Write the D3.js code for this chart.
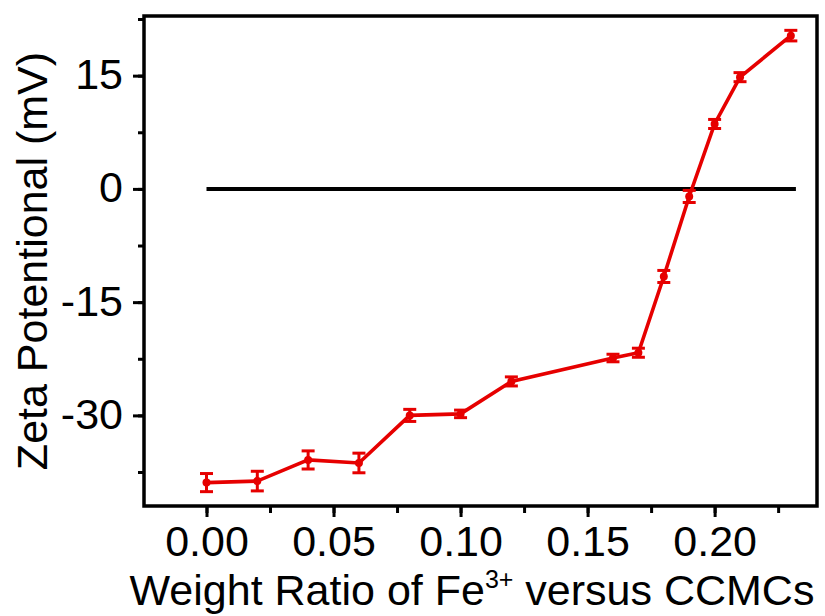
<!DOCTYPE html>
<html>
<head>
<meta charset="utf-8">
<script src="https://cdn.jsdelivr.net/npm/d3@7"></script>
<style>
  body { margin: 0; background: #fff; }
  svg text { font-family: "Liberation Sans", Arial, sans-serif; }
</style>
</head>
<body>
<svg id="chart" width="825" height="616"></svg>
<script>
const ratios = [0.00, 0.02, 0.04, 0.06, 0.08, 0.10, 0.12, 0.16, 0.17, 0.18, 0.19, 0.20, 0.21, 0.23];
const zeta = [-38.9, -38.7, -35.9, -36.3, -30.0, -29.8, -25.5, -22.4, -21.7, -11.6, -1.0, 8.6, 14.8, 20.3];
const zetaErr = [1.2, 1.3, 1.2, 1.3, 0.8, 0.5, 0.6, 0.5, 0.6, 0.8, 0.8, 0.6, 0.6, 0.7];
const xTicks = [0.00, 0.05, 0.10, 0.15, 0.20];
const yTicks = [15, 0, -15, -30];

const svg = d3.select("#chart");
const mLeft = 144, mRight = 817, mTop = 16, mBottom = 506;

const x = d3.scaleLinear().domain([-0.0246, 0.2403]).range([mLeft, mRight]);
const y = d3.scaleLinear().domain([-42.0, 22.9]).range([mBottom, mTop]);

const data = ratios.map((r, i) => ({ r, v: zeta[i], e: zetaErr[i] }));

// axes with major + minor ticks
const xMinor = d3.range(-0.025, 0.2401, 0.025).filter(t => t >= x.domain()[0] - 1e-9);
const yMinor = d3.range(-37.5, 23, 7.5);

const xAxis = svg.append("g").attr("transform", `translate(0,${mBottom})`);
xAxis.call(d3.axisBottom(x).tickValues(xMinor).tickSize(7).tickFormat(""));
xAxis.append("g").call(d3.axisBottom(x).tickValues(xTicks).tickSize(11).tickPadding(8).tickFormat(d3.format(".2f")));

const yAxis = svg.append("g").attr("transform", `translate(${mLeft},0)`);
yAxis.call(d3.axisLeft(y).tickValues(yMinor).tickSize(6).tickFormat(""));
yAxis.append("g").call(d3.axisLeft(y).tickValues(yTicks).tickSize(11).tickPadding(10).tickFormat(d => String(d)));

svg.selectAll(".domain").remove();
svg.selectAll(".tick line").attr("stroke", "#000").attr("stroke-width", 3);
svg.selectAll(".tick text").attr("fill", "#000").style("font-size", "43px");
xAxis.selectAll(".tick text").attr("dy", "0.72em");
yAxis.selectAll(".tick text").attr("dy", "0.3em");

// frame
svg.append("rect")
  .attr("x", mLeft).attr("y", mTop)
  .attr("width", mRight - mLeft).attr("height", mBottom - mTop)
  .attr("fill", "none").attr("stroke", "#000").attr("stroke-width", 3.5);

// zero reference line
svg.append("line")
  .attr("x1", x(0)).attr("x2", x(0.232))
  .attr("y1", y(0)).attr("y2", y(0))
  .attr("stroke", "#000").attr("stroke-width", 4);

const red = "#e60000";

svg.append("path")
  .datum(data)
  .attr("fill", "none")
  .attr("stroke", red)
  .attr("stroke-width", 3.6)
  .attr("d", d3.line().x(d => x(d.r)).y(d => y(d.v)));

const eb = svg.append("g").attr("stroke", red).attr("stroke-width", 3);
eb.selectAll(".bar").data(data).enter().append("line")
  .attr("x1", d => x(d.r)).attr("x2", d => x(d.r))
  .attr("y1", d => y(d.v - d.e)).attr("y2", d => y(d.v + d.e));
eb.selectAll(".capT").data(data).enter().append("line")
  .attr("x1", d => x(d.r) - 6.5).attr("x2", d => x(d.r) + 6.5)
  .attr("y1", d => y(d.v + d.e)).attr("y2", d => y(d.v + d.e));
eb.selectAll(".capB").data(data).enter().append("line")
  .attr("x1", d => x(d.r) - 6.5).attr("x2", d => x(d.r) + 6.5)
  .attr("y1", d => y(d.v - d.e)).attr("y2", d => y(d.v - d.e));

svg.selectAll(".pt").data(data).enter().append("circle")
  .attr("cx", d => x(d.r)).attr("cy", d => y(d.v))
  .attr("r", 4).attr("fill", red);

// axis titles
const xt = svg.append("text")
  .attr("x", 472).attr("y", 605)
  .attr("text-anchor", "middle")
  .style("font-size", "43px").attr("fill", "#000");
xt.append("tspan").text("Weight Ratio of Fe");
xt.append("tspan").text("3+").style("font-size", "25px").attr("dy", -17);
xt.append("tspan").text(" versus CCMCs").attr("dy", 17);

svg.append("text")
  .attr("transform", `translate(47,${(mTop + mBottom) / 2}) rotate(-90)`)
  .attr("text-anchor", "middle")
  .style("font-size", "43px").attr("fill", "#000")
  .text("Zeta Potentional (mV)");
</script>
</body>
</html>
